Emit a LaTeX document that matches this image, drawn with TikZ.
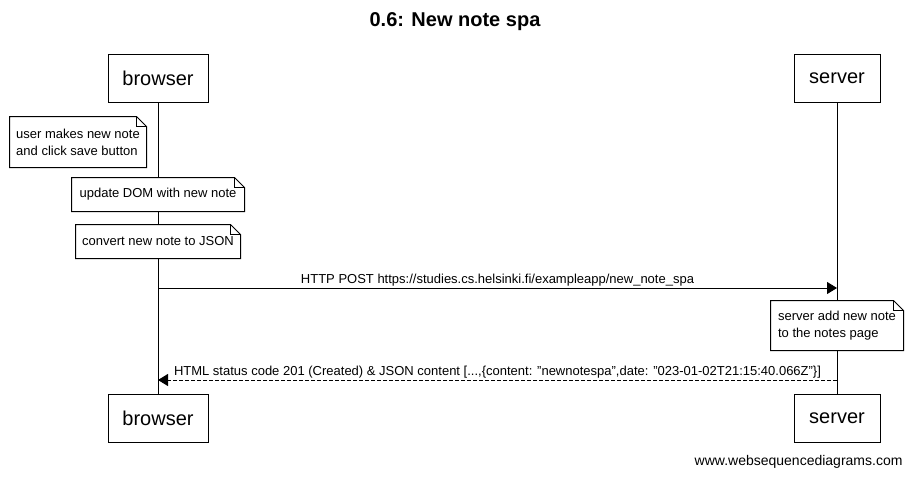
\documentclass[tikz,border=0pt]{standalone}
\usepackage{fontspec}
\setmainfont{Liberation Sans}
\usetikzlibrary{arrows.meta}
\newcommand\mynotefold[1]{%
  \draw[line width=1pt] (#1.north west) -- ([xshift=-10pt]#1.north east) -- ([yshift=-10pt]#1.north east)
    -- (#1.south east) -- (#1.south west) -- cycle;
  \draw[line width=0.7pt] ([xshift=-10pt]#1.north east) |- ([yshift=-10pt]#1.north east);}
\newcommand\myq{\symbol{34}}
\begin{document}
\begin{tikzpicture}[x=1pt,y=-1pt,line width=1pt,
  actor/.style={draw,fill=white,minimum height=48pt,inner sep=0pt,font=\fontsize{20}{24}\selectfont},
  notebox/.style={fill=white,inner xsep=5pt,inner ysep=0pt,align=left,font=\fontsize{13}{17}\selectfont},
  msg/.style={-{Triangle[length=10pt,width=12pt]}},
  lbl/.style={font=\fontsize{13}{15}\selectfont,inner sep=1.5pt},
  lifeline/.style={line width=1pt}]
\useasboundingbox (0,0) rectangle (911,477);
\fill[white] (0,0) rectangle (911,477);
\node[font=\bfseries\fontsize{20}{24}\selectfont] (title) at (455,22) {0.6: New note spa};
\node[actor,minimum width=100pt] (b1) at (158,78) {browser};
\node[actor,minimum width=86pt] (s1) at (837,78) {server};
\node[actor,minimum width=100pt] (b2) at (158,418) {browser};
\node[actor,minimum width=86pt] (s2) at (837,418) {server};
\draw[lifeline] (b1.south) -- (b2.north);
\draw[lifeline] (s1.south) -- (s2.north);
\node[notebox,minimum width=136pt,minimum height=50pt] (n1) at (78,142) {user makes new note\\and click save button};
\mynotefold{n1}
\node[notebox,minimum width=172pt,minimum height=33pt] (n2) at (158,194.5) {update DOM with new note};
\mynotefold{n2}
\node[notebox,minimum width=164pt,minimum height=33pt] (n3) at (158,241.5) {convert new note to JSON};
\mynotefold{n3}
\draw[msg] (b1.center |- 0,288) -- node[lbl,above] (m1) {HTTP POST https://studies.cs.helsinki.fi/exampleapp/new\_note\_spa} (s1.center |- 0,288);
\node[notebox,minimum width=132pt,minimum height=49pt] (n4) at (837,325.5) {server add new note\\to the notes page};
\mynotefold{n4}
\draw[msg,dash pattern=on 4pt off 2pt] (s1.center |- 0,380) -- node[lbl,above] (m2) {HTML status code 201 (Created) \& JSON content [...,\{content: \myq newnotespa\myq,date: \myq 023-01-02T21:15:40.066Z\myq\}]} (b1.center |- 0,380);
\node[anchor=east,font=\fontsize{14}{16}\selectfont,inner sep=0pt] (foot) at (903,462) {www.websequencediagrams.com};
\end{tikzpicture}
\end{document}
